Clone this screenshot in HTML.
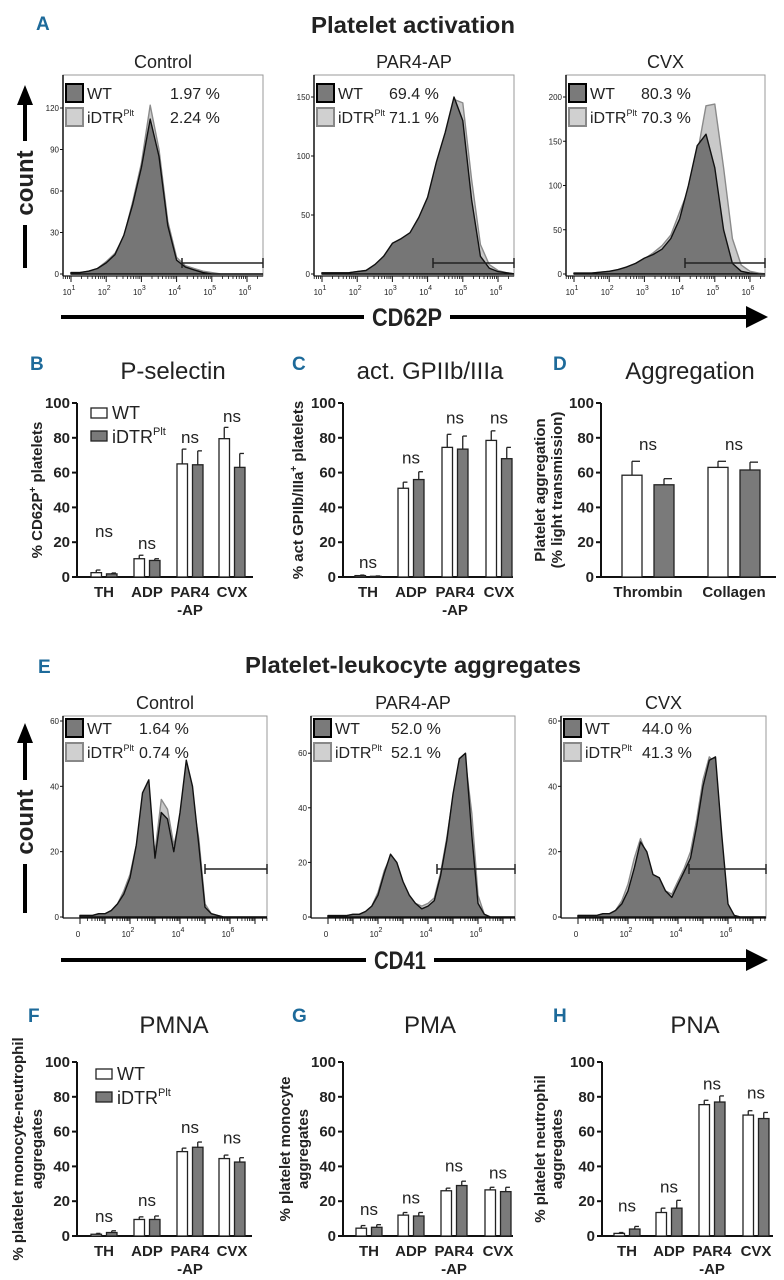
<!DOCTYPE html>
<html><head><meta charset="utf-8"><style>
html,body{margin:0;padding:0;background:#fff}
svg{display:block}
text{font-family:"Liberation Sans",sans-serif;fill:#222}
</style></head><body>
<svg id="fig" xmlns="http://www.w3.org/2000/svg" width="784" height="1280" viewBox="0 0 784 1280"></svg>
<script>
// ===== Histogram data (Panel A: log10 grid 1.0..6.5 step 0.25) =====
const aLogs = [1.0,1.25,1.5,1.75,2.0,2.25,2.5,2.75,3.0,3.25,3.5,3.75,4.0,4.25,4.5,4.75,5.0,5.25,5.5,5.75,6.0,6.25,6.5];
const aCtrlWT = [1,1,2,4,8,14,28,50,77,112,85,35,10,5,3,1,0,0,0,0,0,0,0];
const aCtrlKO = [1,1,2,4,9,15,27,52,80,122,90,38,12,6,4,2,1,0,0,0,0,0,0];
const aParWT = [1,1,1,1,2,3,8,15,26,30,35,48,65,95,120,150,130,63,15,5,2,1,0];
const aParKO = [1,1,1,1,2,3,7,14,24,28,33,45,60,88,115,148,145,80,25,8,3,1,0];
const aCvxWT = [1,1,1,2,3,5,8,12,18,22,28,40,62,100,145,158,120,50,12,3,1,0,0];
const aCvxKO = [1,1,1,2,3,4,8,12,17,24,32,44,70,95,135,190,192,120,40,10,3,1,0];
const aPct = [["1.97 %","2.24 %"],["69.4 %","71.1 %"],["80.3 %","70.3 %"]];
// ===== Panel E: grid 0..7.5 step 0.25 =====
const eLogs = [0,0.25,0.5,0.75,1,1.25,1.5,1.75,2,2.25,2.5,2.75,3,3.25,3.5,3.75,4,4.25,4.5,4.75,5,5.25,5.5,5.75,6,6.25,6.5,6.75,7,7.25,7.5];
const eCtrlWT = [0.5,0.5,0.5,1,1,2,4,7,12,22,38,42,18,32,30,20,32,48,40,22,3,1,0.5,0,0,0,0,0,0,0,0];
const eCtrlKO = [0.5,0.5,0.5,1,1,2,4,8,13,22,30,32,20,36,33,22,30,37,36,24,4,1,0.5,0,0,0,0,0,0,0,0];
const eParWT = [0.5,0.5,0.5,0.5,1,1,2,4,8,16,23,20,13,8,5,3,4,6,15,28,45,58,60,30,5,1,0,0,0,0,0];
const eParKO = [0.5,0.5,0.5,0.5,1,1,2,4,9,17,22,19,12,7,5,4,5,7,16,29,44,55,57,38,8,1,0,0,0,0,0];
const eCvxWT = [0.5,0.5,0.5,0.5,1,1,2,4,8,15,23,20,13,12,8,6,10,14,18,28,40,48,49,25,4,0.5,0,0,0,0,0];
const eCvxKO = [0.5,0.5,0.5,0.5,1,1,2,5,10,18,24,19,12,11,8,7,11,15,20,30,42,49,47,22,3,0.5,0,0,0,0,0];
const ePct = [["1.64 %","0.74 %"],["52.0 %","52.1 %"],["44.0 %","41.3 %"]];
// ===== Bar chart data =====
const cats4 = ["TH","ADP","PAR4","CVX"];
const catsD = ["Thrombin","Collagen"];
const bWT = [2.5,10.5,65,79.5], bWTe=[1.5,2,8.5,6.5], bKO=[1.8,9.5,64.5,63], bKOe=[0.5,1,8,8], bNs=[26,19,80,92];
const cWT = [0.8,51,74.5,78.5], cWTe=[0.3,3.5,7.5,5.5], cKO=[0.4,56,73.5,68], cKOe=[0.2,4.5,7.5,6.5], cNs=[8,68,91,91];
const dWT = [58.5,63], dWTe=[8,3.5], dKO=[53,61.5], dKOe=[3.5,4.5], dNs=[76,76];
const fWT = [1,9.5,48.5,44.5], fWTe=[0.5,1.5,2,2], fKO=[2,9.5,51,42.5], fKOe=[1,2,3,2.5], fNs=[11,20,62,56];
const gWT = [4.5,12,26,26.5], gWTe=[1.5,1.5,1.5,1.5], gKO=[5,11.5,29,25.5], gKOe=[1.5,2,2.5,2.5], gNs=[15,21.5,40,36];
const hWT = [1.5,13.5,75.5,69.5], hWTe=[0.5,2.5,2.5,2.5], hKO=[4,16,77,67.5], hKOe=[1.5,4.5,3.5,3.5], hNs=[17,28,87,82];
const yTicks = [0,20,40,60,80,100];

const NS="http://www.w3.org/2000/svg";
const svg=document.getElementById('fig');
function el(tag,attrs,parent,txt){const e=document.createElementNS(NS,tag);for(const k in attrs)e.setAttribute(k,attrs[k]);if(txt!==undefined)e.textContent=txt;(parent||svg).appendChild(e);return e;}

function panelLetter(t,x,y){const e=el('text',{x:x,y:y,'font-size':19,'font-weight':'bold',style:'fill:#1d6a9a'},svg,t);

}
panelLetter('A',36,30);panelLetter('B',30,370);panelLetter('C',292,370);panelLetter('D',553,370);
panelLetter('E',38,673);panelLetter('F',28,1022);panelLetter('G',292,1022);panelLetter('H',553,1022);

function title(t,x,y,fs,bold,len,name){const a={x:x,y:y,'font-size':fs,'text-anchor':'middle','font-weight':bold?'bold':'normal'};if(len){a.textLength=len;a.lengthAdjust='spacingAndGlyphs';}
const e=el('text',a,svg,t);

return e;}
title('Platelet activation',413,33,23,true,204,'title-platelet-activation');
title('Platelet-leukocyte aggregates',413,673,23,true,336,'title-platelet-leukocyte-aggregates');

function histPanel(o){
  const g=el('g',{});
  
  
  title(o.title,(o.x0+o.x1)/2,o.titleY,18,false,undefined,o.name+'-title');
  const y=c=>o.base-c*o.ppu;
  const x=l=>o.xoff+l*o.ppd;
  const cid='clip'+o.name;
  const cp=el('clipPath',{id:cid},g);el('rect',{x:o.x0,y:o.top,width:o.x1-o.x0,height:o.bot-o.top},cp);
  el('rect',{x:o.x0,y:o.top,width:o.x1-o.x0,height:o.bot-o.top,fill:'#fff',stroke:'#999','stroke-width':1},g);
  const hg=el('g',{'clip-path':'url(#'+cid+')'},g);
  function path(vals,fill,stroke,nm){
    let d='M'+x(o.logs[0]).toFixed(1)+','+y(0);
    vals.forEach((v,i)=>{d+=' L'+x(o.logs[i]).toFixed(1)+','+y(v).toFixed(1);});
    d+=' L'+x(o.logs[o.logs.length-1]).toFixed(1)+','+y(0)+' Z';
    const p=el('path',{d:d,fill:fill,stroke:stroke,'stroke-width':1.4,'stroke-linejoin':'round'},hg);
    
    
  }
  path(o.ko,'#c9c9c9','#8a8a8a',o.name+'-idtr-histogram');
  path(o.wt,'#767676','#111',o.name+'-wt-histogram');
  el('line',{x1:o.x0,y1:o.top,x2:o.x0,y2:o.bot,stroke:'#111','stroke-width':1.5},g);
  el('line',{x1:o.x0,y1:o.bot,x2:o.x1,y2:o.bot,stroke:'#111','stroke-width':1.2},g);
  o.yt.forEach(v=>{el('line',{x1:o.x0-3,y1:y(v),x2:o.x0,y2:y(v),stroke:'#111'},g);
    const tt=el('text',{x:o.x0-4,y:y(v)+3,'font-size':8,'text-anchor':'end'},g,String(v));
    
    });
  for(let d=o.dmin;d<=o.dmax;d++){
    if(x(d)>=o.x0&&x(d)<=o.x1)el('line',{x1:x(d),y1:o.bot,x2:x(d),y2:o.bot+6,stroke:'#111'},g);
    for(let m=2;m<10;m++){const xm=x(d+Math.log10(m));if(xm>o.x0&&xm<o.x1)el('line',{x1:xm,y1:o.bot,x2:xm,y2:o.bot+3,stroke:'#111','stroke-width':0.8},g);}
  }
  o.xl.forEach(l=>{const tx=el('text',{x:x(l[0])-2,y:o.bot+19,'font-size':8,'text-anchor':'middle'},g);
    
    
    if(l[1]==='0'){tx.textContent='0';}else{el('tspan',{},tx,'10');el('tspan',{dy:-5,'font-size':7},tx,l[1]);}});
  el('line',{x1:o.gate,y1:o.gy,x2:o.x1,y2:o.gy,stroke:'#222','stroke-width':1.5},g);
  el('line',{x1:o.gate,y1:o.gy-5,x2:o.gate,y2:o.gy+5,stroke:'#222','stroke-width':1.5},g);
  el('line',{x1:o.x1,y1:o.gy-5,x2:o.x1,y2:o.gy+5,stroke:'#222','stroke-width':1.5},g);
  const lg=el('g',{},g);
  
  
  el('rect',{x:o.x0+3,y:o.ly-9,width:17,height:18,fill:'#7a7a7a',stroke:'#000','stroke-width':2},lg);
  el('rect',{x:o.x0+3,y:o.ly+15,width:17,height:18,fill:'#d0d0d0',stroke:'#888','stroke-width':2},lg);
  el('text',{x:o.x0+24,y:o.ly+6,'font-size':16},lg,'WT');
  const t2=el('text',{x:o.x0+24,y:o.ly+30,'font-size':16},lg,'iDTR');el('tspan',{dy:-7,'font-size':9},t2,'Plt');
  el('text',{x:o.px,y:o.ly+6,'font-size':16},lg,o.pct[0]);
  el('text',{x:o.px,y:o.ly+30,'font-size':16},lg,o.pct[1]);
}
const aBoxes=[[63,263],[314,514],[566,765]];
const aNames=['control','par4-ap','cvx'], aTitles=['Control','PAR4-AP','CVX'];
const aData=[[aCtrlWT,aCtrlKO,166/120,[0,30,60,90,120]],[aParWT,aParKO,177/150,[0,50,100,150]],[aCvxWT,aCvxKO,177/200,[0,50,100,150,200]]];
const aPx=[170,389,641];
aBoxes.forEach((b,i)=>histPanel({name:'cd62p-histogram-'+aNames[i],title:aTitles[i],titleY:68,x0:b[0],x1:b[1],top:75,bot:276,base:274,
  ppu:aData[i][2],yt:aData[i][3],logs:aLogs,wt:aData[i][0],ko:aData[i][1],xoff:b[0]+8-35.2,ppd:35.2,dmin:0,dmax:7,
  xl:[[1,'1'],[2,'2'],[3,'3'],[4,'4'],[5,'5'],[6,'6']],gate:b[0]+119,gy:263,ly:93,px:aPx[i],pct:aPct[i]}));
const eBoxes=[[63,267],[311,515],[561,766]];
const eData=[[eCtrlWT,eCtrlKO,196/60],[eParWT,eParKO,2.73],[eCvxWT,eCvxKO,196/60]];
const eGate=[205,437,689];
eBoxes.forEach((b,i)=>histPanel({name:'cd41-histogram-'+aNames[i],title:aTitles[i],titleY:709,x0:b[0],x1:b[1],top:716,bot:918,base:917,
  ppu:eData[i][2],yt:[0,20,40,60],logs:eLogs,wt:eData[i][0],ko:eData[i][1],xoff:b[0]+17,ppd:25,dmin:0,dmax:8,
  xl:[[0,'0'],[2,'2'],[4,'4'],[6,'6']],gate:eGate[i],gy:869,ly:728,px:[139,391,642][i],pct:ePct[i]}));

function countArrow(x,yb,yt,ty,nm){const g=el('g',{});
  
  
  el('line',{x1:x,y1:yb,x2:x,y2:yt+16,stroke:'#000','stroke-width':4},g);
  el('polygon',{points:`${x-8},${yt+20} ${x},${yt} ${x+8},${yt+20}`,fill:'#000'},g);
  el('rect',{x:x-14,y:ty-42,width:28,height:84,fill:'#fff'},g);
  el('text',{x:x,y:ty,'font-size':24,'font-weight':'bold','text-anchor':'middle',dy:8,transform:`rotate(-90 ${x} ${ty})`},g,'count');}
countArrow(25,268,85,183,'y-axis-count-arrow-a');
countArrow(25,913,723,822,'y-axis-count-arrow-e');
function hArrow(y,tx,t,w,nm){const g=el('g',{});
  
  
  el('line',{x1:61,y1:y,x2:750,y2:y,stroke:'#000','stroke-width':4},g);
  el('polygon',{points:`746,${y-11} 768,${y} 746,${y+11}`,fill:'#000'},g);
  el('rect',{x:tx-w/2-8,y:y-14,width:w+16,height:28,fill:'#fff'},g);
  el('text',{x:tx,y:y+9,'font-size':25,'font-weight':'bold','text-anchor':'middle',textLength:w,lengthAdjust:'spacingAndGlyphs'},g,t);}
hArrow(317,407,'CD62P',70,'x-axis-cd62p-arrow');
hArrow(960,400,'CD41',52,'x-axis-cd41-arrow');

function barChart(o){
  const g=el('g',{});
  
  
  const y=v=>o.y0-(o.y0-o.y100)*v/100;
  const t=el('text',{x:o.tx,y:o.ty,'font-size':24,'text-anchor':'middle'},g,o.title);
  
  
  el('line',{x1:o.ax,y1:y(100),x2:o.ax,y2:o.y0,stroke:'#111','stroke-width':2},g);
  el('line',{x1:o.ax,y1:o.y0,x2:o.axEnd,y2:o.y0,stroke:'#111','stroke-width':2},g);
  yTicks.forEach(v=>{el('line',{x1:o.ax-5,y1:y(v),x2:o.ax,y2:y(v),stroke:'#111','stroke-width':2},g);
    const tl=el('text',{x:o.ax-7,y:y(v)+5,'font-size':15,'font-weight':'bold','text-anchor':'end'},g,String(v));
    
    });
  o.cats.forEach((c,i)=>{
    const cx=o.cx[i];
    [[o.wt,o.wte,'#fff',-1],[o.ko,o.koe,'#7a7a7a',1]].forEach(s=>{
      const bx=cx+s[3]*(o.gap/2)+(s[3]<0?-o.bw:0);
      const r=el('rect',{x:bx,y:y(s[0][i]),width:o.bw,height:o.y0-y(s[0][i]),fill:s[2],stroke:'#222','stroke-width':1.3},g);
      
      
      const mx=bx+o.bw/2, ye=y(s[0][i]+s[1][i]);
      el('line',{x1:mx,y1:y(s[0][i]),x2:mx,y2:ye,stroke:'#222','stroke-width':1.3},g);
      el('line',{x1:mx,y1:ye,x2:mx+o.bw*0.4,y2:ye,stroke:'#222','stroke-width':1.3},g);
    });
    const ns=el('text',{x:cx,y:y(o.ns[i])+5,'font-size':17,'text-anchor':'middle'},g,'ns');
    
    
    const lab=el('text',{x:cx,y:o.y0+20,'font-size':15,'font-weight':'bold','text-anchor':'middle'},g,c);
    
    
    if(c==='PAR4')el('text',{x:cx,y:o.y0+38,'font-size':15,'font-weight':'bold','text-anchor':'middle'},g,'-AP');
  });
  const cy=(o.y0+o.y100)/2;
  o.yl.forEach(l=>{const tl=el('text',{x:l[0],y:cy,'font-size':15,'font-weight':'bold','text-anchor':'middle',dy:5,transform:`rotate(-90 ${l[0]} ${cy})`},g);
    
    
    l[1].forEach(p=>{if(p[1])el('tspan',{dy:-6,'font-size':10},tl,p[0]);else el('tspan',{dy:p[2]||0},tl,p[0]);});});
  if(o.legend){const lg=el('g',{},g);
    
    
    const lx=o.legend[0],ly=o.legend[1];
    el('rect',{x:lx,y:ly-5,width:16,height:10,fill:'#fff',stroke:'#222','stroke-width':1.3},lg);
    el('rect',{x:lx,y:ly+23-5,width:16,height:10,fill:'#7a7a7a',stroke:'#222','stroke-width':1.3},lg);
    el('text',{x:lx+21,y:ly+6,'font-size':18},lg,'WT');
    const t2=el('text',{x:lx+21,y:ly+30,'font-size':18},lg,'iDTR');el('tspan',{dy:-8,'font-size':11},t2,'Plt');}
}
const cxB=[104,147,190,232], cxC=[368,411,455,499], cxD=[648,734];
barChart({name:'p-selectin-chart',title:'P-selectin',tx:173,ty:379,ax:77,axEnd:253,y0:577,y100:403,cats:cats4,cx:cxB,bw:10.5,gap:5,
  wt:bWT,wte:bWTe,ko:bKO,koe:bKOe,ns:bNs,legend:[91,413],
  yl:[[42,[['% CD62P'],['+',1],[' platelets',0,6]]]]});
barChart({name:'gpiib-iiia-chart',title:'act. GPIIb/IIIa',tx:430,ty:379,ax:343,axEnd:513,y0:577,y100:403,cats:cats4,cx:cxC,bw:10.5,gap:5,
  wt:cWT,wte:cWTe,ko:cKO,koe:cKOe,ns:cNs,
  yl:[[303,[['% act GPIIb/IIIa'],['+',1],[' platelets',0,6]]]]});
barChart({name:'aggregation-chart',title:'Aggregation',tx:690,ty:379,ax:601,axEnd:776,y0:577,y100:403,cats:catsD,cx:cxD,bw:20,gap:12,
  wt:dWT,wte:dWTe,ko:dKO,koe:dKOe,ns:dNs,
  yl:[[545,[['Platelet aggregation']]],[562,[['(% light transmission)']]]]});
barChart({name:'pmna-chart',title:'PMNA',tx:174,ty:1033,ax:77,axEnd:252,y0:1236,y100:1062,cats:cats4,cx:cxB,bw:10.5,gap:5,
  wt:fWT,wte:fWTe,ko:fKO,koe:fKOe,ns:fNs,legend:[96,1074],
  yl:[[23,[['% platelet monocyte-neutrophil']]],[42,[['aggregates']]]]});
barChart({name:'pma-chart',title:'PMA',tx:430,ty:1033,ax:343,axEnd:513,y0:1236,y100:1062,cats:cats4,cx:[369,411,454,498],bw:10.5,gap:5,
  wt:gWT,wte:gWTe,ko:gKO,koe:gKOe,ns:gNs,
  yl:[[290,[['% platelet monocyte']]],[308,[['aggregates']]]]});
barChart({name:'pna-chart',title:'PNA',tx:695,ty:1033,ax:602,axEnd:773,y0:1236,y100:1062,cats:cats4,cx:[627,669,712,756],bw:10.5,gap:5,
  wt:hWT,wte:hWTe,ko:hKO,koe:hKOe,ns:hNs,
  yl:[[545,[['% platelet neutrophil']]],[562,[['aggregates']]]]});
</script>
</body></html>
